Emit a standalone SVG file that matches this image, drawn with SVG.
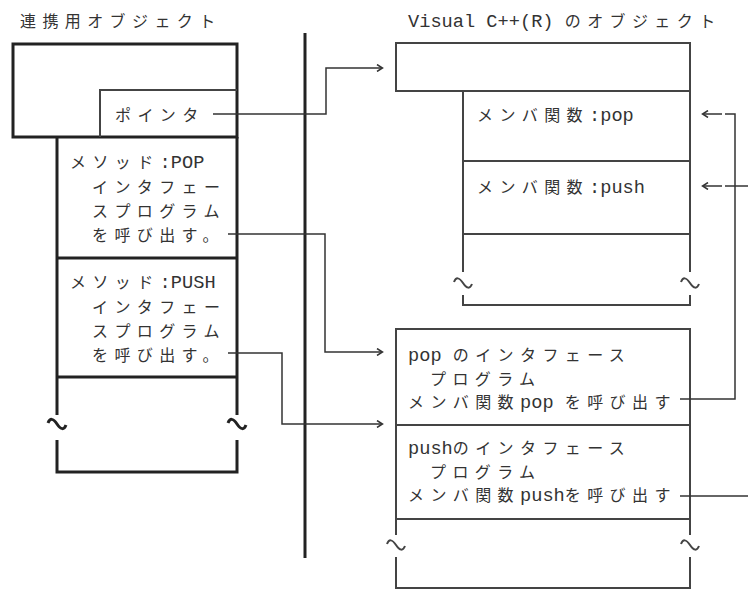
<svg xmlns="http://www.w3.org/2000/svg" width="748" height="590" viewBox="0 0 748 590">
<style>
.thick{stroke:#222;stroke-width:3;fill:none}
.thin{stroke:#444;stroke-width:2;fill:none}
.conn{stroke:#333;stroke-width:1.5;fill:none}
.t{font-family:"Noto Sans CJK JP","Noto Sans CJK SC",sans-serif;font-size:16px;fill:#333;letter-spacing:6.4px}
.a{font-family:"Liberation Mono","DejaVu Sans Mono",monospace;font-size:18.67px;letter-spacing:0}
</style>
<defs>
<path id="tl" d="M-9,-1 C-7,-6 -4,-6 0,0 C4,6 7,6 9,1"/>
<marker id="ar" markerWidth="8" markerHeight="8" refX="6" refY="4" orient="auto" markerUnits="userSpaceOnUse">
<path d="M1,0.5 L6.5,4 L1,7.5" fill="none" stroke="#333" stroke-width="1.5"/>
</marker>
</defs>
<rect width="748" height="590" fill="#fff"/>

<g id="titles">
<text class="t" x="20" y="27">連携用オブジェクト</text>
<text class="t" x="408" y="27"><tspan class="a">Visual C++(R) </tspan>のオブジェクト</text>
</g>

<g id="divider">
<line class="thick" x1="305" y1="33" x2="305" y2="558"/>
</g>

<g id="node-link-object">
<rect class="thick" x="13" y="44" width="224" height="93"/>
<path class="thin" d="M100,137 V90 H237"/>
<text class="t" x="115" y="121">ポインタ</text>
<path class="thick" d="M57,137 V415 M237,137 V415 M57,258 H237 M57,377 H237 M57,440 V472 H237 V440"/>
<use href="#tl" class="thick" x="57" y="424"/>
<use href="#tl" class="thick" x="237" y="424"/>
<text class="t"><tspan x="70" y="168">メソッド</tspan><tspan class="a">:POP</tspan><tspan x="92" y="193">インタフェー</tspan><tspan x="92" y="217">スプログラム</tspan><tspan x="92" y="241">を呼び出す。</tspan></text>
<text class="t"><tspan x="70" y="288">メソッド</tspan><tspan class="a">:PUSH</tspan><tspan x="92" y="313">インタフェー</tspan><tspan x="92" y="337">スプログラム</tspan><tspan x="92" y="361">を呼び出す。</tspan></text>
</g>

<g id="node-vc-object">
<rect class="thin" x="396" y="43" width="294" height="48"/>
<path class="thin" d="M463,91 V272 M690,91 V272 M463,161 H690 M463,234 H690 M463,295 V305 H690 V295"/>
<use href="#tl" class="thin" x="463" y="283"/>
<use href="#tl" class="thin" x="690" y="283"/>
<text class="t" x="477" y="121">メンバ関数<tspan class="a">:pop</tspan></text>
<text class="t" x="477" y="193">メンバ関数<tspan class="a">:push</tspan></text>
</g>

<g id="node-interface-programs">
<path class="thin" d="M396,535 V329 H690 V535 M396,425 H690 M396,519 H690 M396,557 V588 H690 V557"/>
<use href="#tl" class="thin" x="396" y="545"/>
<use href="#tl" class="thin" x="690" y="545"/>
<text class="t"><tspan class="a" x="408" y="361">pop </tspan><tspan>のインタフェース</tspan><tspan x="430" y="384.5">プログラム</tspan><tspan x="408" y="408">メンバ関数</tspan><tspan class="a">pop </tspan><tspan>を呼び出す</tspan></text>
<text class="t"><tspan class="a" x="408" y="454">push</tspan><tspan>のインタフェース</tspan><tspan x="430" y="477.5">プログラム</tspan><tspan x="408" y="501">メンバ関数</tspan><tspan class="a">push</tspan><tspan>を呼び出す</tspan></text>
</g>

<g id="connectors">
<path class="conn" d="M213,114 H326 V68 H382" marker-end="url(#ar)"/>
<path class="conn" d="M228,234 H325 V352 H382" marker-end="url(#ar)"/>
<path class="conn" d="M228,353 H282 V424 H382" marker-end="url(#ar)"/>
<path class="conn" d="M680,399 H735 V114 H725"/>
<path class="conn" d="M722,114 H703" marker-end="url(#ar)"/>
<path class="conn" d="M680,496 H748"/>
<path class="conn" d="M748,186 H725"/>
<path class="conn" d="M722,186 H703" marker-end="url(#ar)"/>
</g>
</svg>
